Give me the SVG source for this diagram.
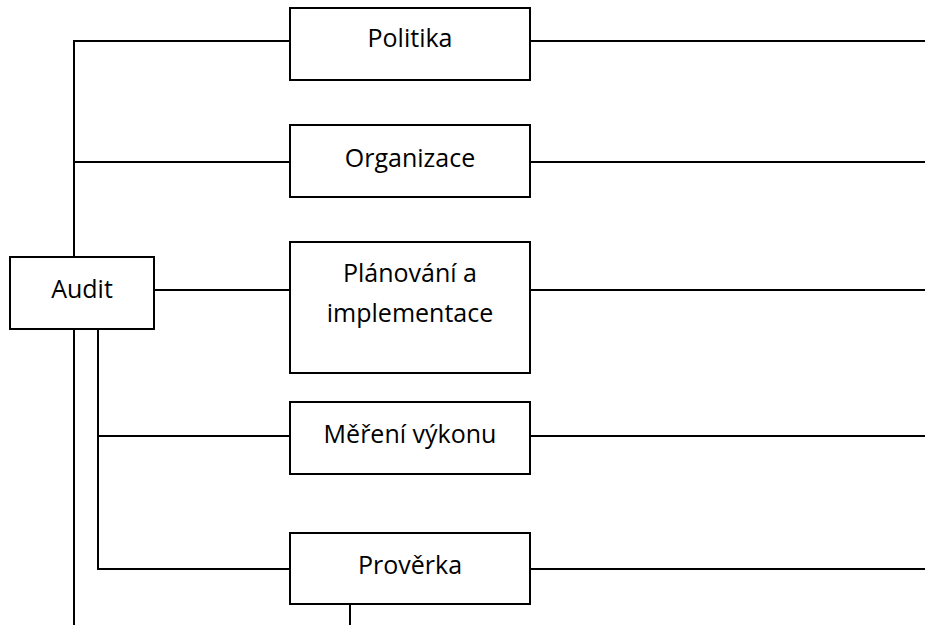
<svg xmlns="http://www.w3.org/2000/svg" width="925" height="625" viewBox="0 0 925 625">
<style>
.box{fill:#fff;stroke:#000;stroke-width:2}
.ln{fill:none;stroke:#000;stroke-width:2}
.t{font-family:"Open Sans","Liberation Sans",sans-serif;font-size:25px;fill:#000;text-anchor:middle}
</style>
<rect width="925" height="625" fill="#fff"/>
<g id="connectors">
<polyline class="ln" points="74,257 74,41 290,41"/>
<line class="ln" x1="74" y1="162" x2="290" y2="162"/>
<line class="ln" x1="154" y1="290" x2="290" y2="290"/>
<line class="ln" x1="74" y1="329" x2="74" y2="625"/>
<polyline class="ln" points="98,329 98,569 290,569"/>
<line class="ln" x1="98" y1="436" x2="290" y2="436"/>
<line class="ln" x1="350" y1="604" x2="350" y2="625"/>
<line class="ln" x1="530" y1="41" x2="925" y2="41"/>
<line class="ln" x1="530" y1="162" x2="925" y2="162"/>
<line class="ln" x1="530" y1="290" x2="925" y2="290"/>
<line class="ln" x1="530" y1="436" x2="925" y2="436"/>
<line class="ln" x1="530" y1="569" x2="925" y2="569"/>
</g>
<g id="audit"><rect class="box" x="10" y="257" width="144" height="72"/><text class="t" x="82" y="298">Audit</text></g>
<g id="politika"><rect class="box" x="290" y="8" width="240" height="72"/><text class="t" x="410" y="47">Politika</text></g>
<g id="organizace"><rect class="box" x="290" y="125" width="240" height="72"/><text class="t" x="410" y="167">Organizace</text></g>
<g id="planovani"><rect class="box" x="290" y="242" width="240" height="131"/><text class="t" x="410" y="282">Plánování a</text><text class="t" x="410" y="322">implementace</text></g>
<g id="mereni"><rect class="box" x="290" y="402" width="240" height="72"/><text class="t" x="410" y="443">Měření výkonu</text></g>
<g id="proverka"><rect class="box" x="290" y="533" width="240" height="71"/><text class="t" x="410" y="574">Prověrka</text></g>
</svg>
